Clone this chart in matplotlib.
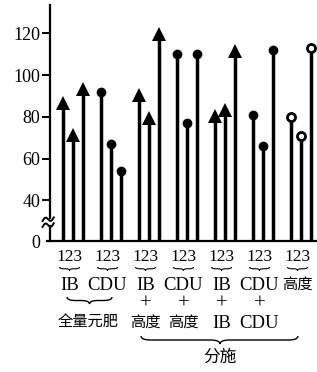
import numpy as np
import matplotlib
matplotlib.use('Agg')
import matplotlib.pyplot as plt
from matplotlib.path import Path
from matplotlib.patches import PathPatch
from matplotlib.transforms import blended_transform_factory

plt.rcParams['font.family'] = ['Liberation Serif', 'Noto Sans CJK SC']

W, H = 317, 372

# three plots (1, 2, 3) for each treatment
ROW1 = ['IB', 'CDU', 'IB', 'CDU', 'IB', 'CDU', '高度']
ROW2 = ['', '', '+', '+', '+', '+', '']
ROW3 = ['', '', '高度', '高度', 'IB', 'CDU', '']
KINDS = ['arrow', 'dot', 'arrow', 'dot', 'arrow', 'dot', 'open']
VALUES = [
    [86, 71, 93],
    [92, 67, 54],
    [90, 79, 119],
    [110, 77, 110],
    [80, 83, 111],
    [81, 66, 112],
    [80, 71, 113],
]
Y_TICKS = [40, 60, 80, 100, 120]
Y_BASE = 20.6   # where the broken axis shows "0"
Y_TOP = 133.6

# layout (x in pixel-like data units)
G0, GSTEP = 72.5, 38.0
OFFS = [-9.5, 0.0, 10.5]
LBL_SHIFT = -3.0


def fy(y):
    return 1 - y / H


def brace(fig, tr, x0, x1, y, h, xm=None, lw=1.0):
    """Horizontal curly brace opening upward, tip pointing down."""
    if xm is None:
        xm = (x0 + x1) / 2
    r = min(h * 1.2, (x1 - x0) / 5)
    ym = y + h / 2
    verts = [(x0, y), (x0, ym), (x0 + r, ym),
             (xm - r, ym),
             (xm, ym), (xm, y + h),
             (xm, ym), (xm + r, ym),
             (x1 - r, ym),
             (x1, ym), (x1, y)]
    verts = [(vx, fy(vy)) for vx, vy in verts]
    codes = [Path.MOVETO, Path.CURVE3, Path.CURVE3, Path.LINETO,
             Path.CURVE3, Path.CURVE3, Path.CURVE3, Path.CURVE3,
             Path.LINETO, Path.CURVE3, Path.CURVE3]
    fig.add_artist(PathPatch(Path(verts, codes), transform=tr,
                             facecolor='none', edgecolor='black', lw=lw))


fig = plt.figure(figsize=(W / 100, H / 100), dpi=100)
ax = fig.add_axes([50 / W, fy(241), (W - 50) / W, (241 - 5) / H])
ax.set_xlim(50, W)
ax.set_ylim(Y_BASE, Y_TOP)

for g, vals in enumerate(VALUES):
    c = G0 + GSTEP * g
    for i, v in enumerate(vals):
        x = c + OFFS[i]
        ax.plot([x, x], [Y_BASE, v], color='black', lw=2.5,
                solid_capstyle='butt', zorder=2)
        kind = KINDS[g]
        if kind == 'arrow':
            ax.plot(x, v + 0.5, marker='^', ms=9.5, color='black', mew=0,
                    zorder=3, clip_on=False)
        elif kind == 'dot':
            ax.plot(x, v, marker='o', ms=7, color='black', mew=0,
                    zorder=3, clip_on=False)
        else:
            ax.plot(x, v, marker='o', ms=5.8, mfc='white', mec='black',
                    mew=2.0, zorder=3, clip_on=False)

# axes: broken left spine
for side in ('top', 'right', 'left'):
    ax.spines[side].set_visible(False)
ax.spines['bottom'].set_linewidth(1.6)
ax.spines['bottom'].set_bounds(47, W)
yt = ax.get_yaxis_transform()
ax.plot([0, 0], [31.8, Y_TOP], color='black', lw=1.6, transform=yt,
        clip_on=False)
ax.plot([0, 0], [Y_BASE, 27.6], color='black', lw=1.6, transform=yt,
        clip_on=False)
t = np.linspace(0, 1, 30)
for yb in (31.0, 28.2):
    ax.plot(-0.028 + 0.042 * t, yb - 0.9 + 1.8 * t
            + 1.2 * np.sin(2 * np.pi * t), color='black', lw=1.4,
            transform=yt, clip_on=False)

ax.set_xticks([])
ax.set_yticks([Y_BASE] + Y_TICKS)
ax.set_yticklabels(['0'] + [str(v) for v in Y_TICKS], fontsize=13)
ax.tick_params(axis='y', length=6, width=1.4, pad=1)
ax.yaxis.get_major_ticks()[0].tick1line.set_visible(False)

# category labels below the axis
tr = blended_transform_factory(ax.transData, fig.transFigure)
for g in range(len(VALUES)):
    c = G0 + GSTEP * g + LBL_SHIFT
    fig.text(c, fy(257), '123', transform=tr, ha='center', va='center',
             fontsize=12.5)
    brace(fig, tr, c - 10, c + 10, 267, 3.5, lw=0.8)
    fig.text(c, fy(285), ROW1[g], transform=tr, ha='center', va='center',
             fontsize=13.5 if ROW1[g].isascii() else 11)
    if ROW2[g]:
        fig.text(c, fy(304), ROW2[g], transform=tr, ha='center',
                 va='center', fontsize=15)
    if ROW3[g]:
        fig.text(c, fy(323), ROW3[g], transform=tr, ha='center',
                 va='center', fontsize=13.5 if ROW3[g].isascii() else 11)

# group braces
brace(fig, tr, 67, 112, 297, 7, lw=1.0)
fig.text(88, fy(323), '全量元肥', transform=tr, ha='center', va='center',
         fontsize=11)
brace(fig, tr, 141, 298, 336, 8, xm=220, lw=1.0)
fig.text(220, fy(358), '分施', transform=tr, ha='center', va='center',
         fontsize=12)

fig.savefig('out.png', dpi=100, facecolor='white')
